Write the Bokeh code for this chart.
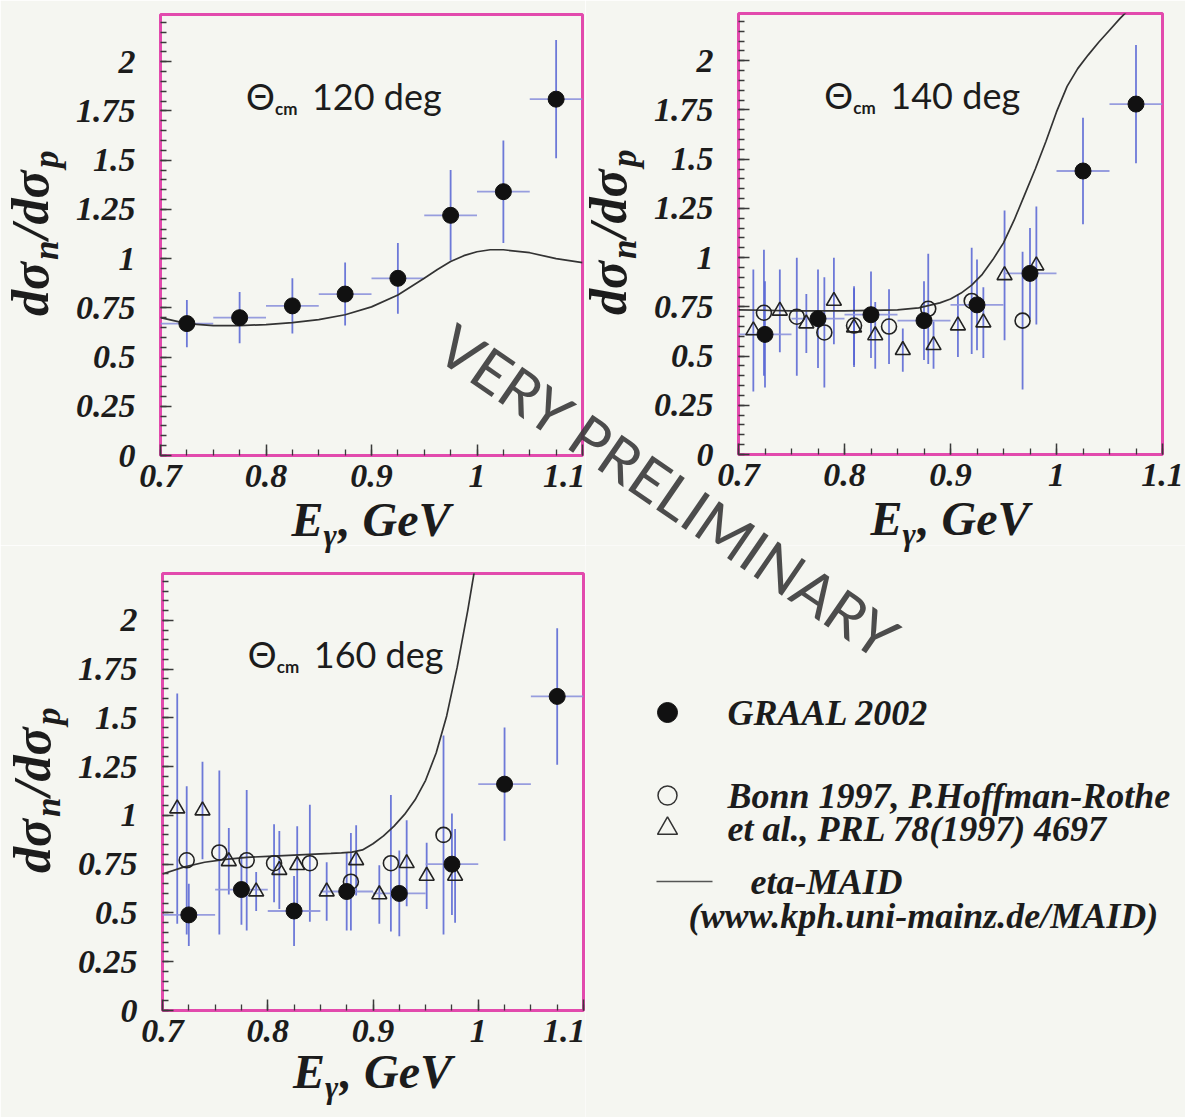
import numpy as np
from bokeh.plotting import figure
from bokeh.layouts import column, row
from bokeh.models import Label, FixedTicker, Range1d
from bokeh.core.properties import value
from bokeh.embed import file_html
from bokeh.resources import INLINE

# ---------------- data: ratio dσn/dσp versus photon energy (GeV) ----------------
# GRAAL 2002, bins of +-0.025 GeV
E_GRAAL = [0.725, 0.775, 0.825, 0.875, 0.925, 0.975, 1.025, 1.075]
E_HALF = 0.025
R120 = [0.67, 0.70, 0.76, 0.82, 0.90, 1.22, 1.34, 1.81]
ERR120 = [0.12, 0.13, 0.14, 0.16, 0.18, 0.23, 0.26, 0.30]
R140 = [0.61, 0.69, 0.71, 0.68, 0.76, 0.92, 1.44, 1.78]
ERR140 = [0.27, 0.25, 0.22, 0.20, 0.23, 0.23, 0.27, 0.30]
R160 = [0.49, 0.62, 0.51, 0.61, 0.60, 0.75, 1.16, 1.61]
ERR160 = [0.16, 0.18, 0.18, 0.20, 0.22, 0.26, 0.29, 0.35]

# Bonn 1997 (open circles)
BC140_E = [0.724, 0.755, 0.781, 0.809, 0.842, 0.879, 0.920, 0.968]
BC140 = [0.72, 0.70, 0.62, 0.655, 0.65, 0.74, 0.78, 0.68]
BC140_ERR = [0.32, 0.30, 0.28, 0.20, 0.19, 0.28, 0.27, 0.35]
BC160_E = [0.723, 0.754, 0.780, 0.806, 0.840, 0.879, 0.917, 0.967]
BC160 = [0.77, 0.81, 0.77, 0.755, 0.755, 0.66, 0.755, 0.90]
BC160_ERR = [0.38, 0.42, 0.36, 0.20, 0.30, 0.25, 0.35, 0.51]

# Bonn 1997 (open triangles)
BT140_E = [0.714, 0.739, 0.764, 0.790, 0.809, 0.829, 0.855, 0.884, 0.907, 0.931, 0.951, 0.981]
BT140 = [0.63, 0.73, 0.665, 0.78, 0.645, 0.605, 0.53, 0.555, 0.655, 0.67, 0.91, 0.96]
BT140_ERR = [0.31, 0.21, 0.15, 0.22, 0.20, 0.17, 0.11, 0.12, 0.16, 0.18, 0.33, 0.30]
BT160_E = [0.714, 0.738, 0.763, 0.789, 0.811, 0.828, 0.856, 0.884, 0.906, 0.932, 0.951, 0.978]
BT160 = [1.035, 1.025, 0.765, 0.61, 0.72, 0.745, 0.61, 0.77, 0.595, 0.755, 0.69, 0.69]
BT160_ERR = [0.59, 0.25, 0.17, 0.10, 0.20, 0.20, 0.15, 0.18, 0.15, 0.22, 0.17, 0.24]

# eta-MAID predictions
M120_E = [0.70, 0.725, 0.75, 0.775, 0.80, 0.825, 0.85, 0.875, 0.90, 0.925, 0.95, 0.9625,
          0.975, 0.9875, 1.00, 1.0125, 1.025, 1.05, 1.075, 1.10]
M120 = [0.70, 0.67, 0.66, 0.66, 0.665, 0.675, 0.69, 0.715, 0.755, 0.815, 0.90, 0.945,
        0.985, 1.015, 1.035, 1.045, 1.045, 1.03, 1.00, 0.98]
M140_E = [0.70, 0.75, 0.80, 0.85, 0.87, 0.89, 0.90, 0.91, 0.92, 0.93, 0.94, 0.95, 0.96,
          0.97, 0.98, 0.99, 1.00, 1.01, 1.02, 1.03, 1.04, 1.05, 1.06, 1.07]
M140 = [0.735, 0.73, 0.73, 0.735, 0.745, 0.77, 0.79, 0.82, 0.86, 0.915, 0.99, 1.075, 1.19,
        1.32, 1.45, 1.59, 1.74, 1.87, 1.96, 2.03, 2.095, 2.155, 2.215, 2.27]
M160_E = [0.70, 0.72, 0.74, 0.76, 0.78, 0.80, 0.82, 0.84, 0.86, 0.87, 0.88, 0.89, 0.90,
          0.91, 0.92, 0.93, 0.94, 0.95, 0.96, 0.97, 0.98, 0.99, 1.00]
M160 = [0.70, 0.735, 0.76, 0.775, 0.785, 0.79, 0.795, 0.80, 0.805, 0.808, 0.812, 0.823,
        0.855, 0.895, 0.945, 1.005, 1.08, 1.18, 1.32, 1.51, 1.76, 2.05, 2.37]

X_TICKS = [0.7, 0.8, 0.9, 1.0, 1.1]
X_TICK_LABELS = ["0.7", "0.8", "0.9", "1", "1.1"]
Y_TICKS = [0.0, 0.25, 0.5, 0.75, 1.0, 1.25, 1.5, 1.75, 2.0]
Y_TICK_LABELS = ["0", "0.25", "0.5", "0.75", "1", "1.25", "1.5", "1.75", "2"]
ANGLES = ["120 deg", "140 deg", "160 deg"]

LEGEND_LABELS = ["GRAAL 2002", "Bonn 1997, P.Hoffman-Rothe", "et al., PRL 78(1997) 4697",
                 "eta-MAID", "(www.kph.uni-mainz.de/MAID)"]
WATERMARK = "VERY PRELIMINARY"

# ---------------- styling ----------------
BG = "#f5f6f1"
FRAME = "#e24aad"
ERR_V = "#5563d4"
ERR_H = "#8d94dc"
INK = "#1c1c1c"
SERIF = "Liberation Serif"
SANS = "Lato"
X_RANGE = (0.7, 1.1)
Y_RANGE = (0.0, 2.24)
PAGE_W, PAGE_H = 1185, 1117
# "alphabetic" text lands this many ems below its anchor; anchors are raised by it
BASE_SHIFT = 0.37


def style_axis(ax, ticks, labels, minor):
    ax.ticker = FixedTicker(ticks=ticks, minor_ticks=minor)
    ax.major_label_overrides = dict(zip(ticks, labels))
    ax.axis_line_color = None
    ax.major_tick_in = 11
    ax.major_tick_out = 0
    ax.minor_tick_in = 6
    ax.minor_tick_out = 0
    ax.major_tick_line_color = "#3a3a3a"
    ax.minor_tick_line_color = "#3a3a3a"
    ax.major_tick_line_width = 1.5
    ax.minor_tick_line_width = 1.3
    ax.major_label_text_font = SERIF
    ax.major_label_text_font_style = "bold italic"
    ax.major_label_text_font_size = "34px"
    ax.major_label_text_color = INK


def panel(geom, angle_text, graal, graal_err, maid_e, maid, circ=None, tri=None):
    l, r, t, b = geom["borders"]
    p = figure(width=geom["w"], height=geom["h"], x_range=Range1d(*X_RANGE),
               y_range=Range1d(*Y_RANGE), output_backend="svg", toolbar_location=None,
               min_border_left=l, min_border_right=r, min_border_top=t, min_border_bottom=b,
               frame_align=False)
    p.background_fill_color = BG
    p.border_fill_color = BG
    p.outline_line_color = FRAME
    p.outline_line_width = 3
    p.xgrid.visible = False
    p.ygrid.visible = False

    style_axis(p.xaxis[0], X_TICKS, X_TICK_LABELS,
               [round(v, 3) for v in np.arange(0.7, 1.1001, 0.025)])
    p.xaxis[0].major_label_standoff = 9
    style_axis(p.yaxis[0], Y_TICKS, Y_TICK_LABELS,
               [round(v, 3) for v in np.arange(0.0, 2.2401, 0.05)])
    p.yaxis[0].major_label_standoff = 25

    # Bonn points: vertical error bars only
    for series in (circ, tri):
        if series is None:
            continue
        e, v, err = (np.array(a) for a in series)
        p.segment(x0=e, y0=v - err, x1=e, y1=v + err, line_color=ERR_V,
                  line_width=1.8, line_alpha=0.85)

    # GRAAL error bars
    ge = np.array(E_GRAAL)
    gv = np.array(graal)
    gerr = np.array(graal_err)
    p.segment(x0=ge - E_HALF, y0=gv, x1=ge + E_HALF, y1=gv, line_color=ERR_H,
              line_width=1.8, line_alpha=0.9)
    p.segment(x0=ge, y0=gv - gerr, x1=ge, y1=gv + gerr, line_color=ERR_V,
              line_width=1.8, line_alpha=0.85)

    # eta-MAID curve
    p.line(maid_e, maid, line_color="#333333", line_width=1.7)

    for series, marker in ((circ, "circle"), (tri, "triangle")):
        if series is None:
            continue
        p.scatter(series[0], series[1], marker=marker, size=15, fill_color=None,
                  line_color="#222222", line_width=1.6)
    p.scatter(E_GRAAL, graal, marker="circle", size=16, fill_color="#111111",
              line_color="#111111")

    # panel caption: Θ_cm ... deg
    cap = dict(x=0.781, y=1.76, text_baseline="alphabetic", text_align="left",
               text_font=SANS, text_color=INK)
    p.add_layout(Label(text="Θ", text_font_size="36px", y_offset=13, **cap))
    p.add_layout(Label(text="cm", text_font_size="17px", text_font_style="bold",
                       x_offset=29, y_offset=1, **cap))
    p.add_layout(Label(text=angle_text, text_font_size="36px", x_offset=66, y_offset=13,
                       **cap))
    return p


GEOM_A = dict(w=585, h=545, borders=(160, 3, 14, 90), frame=(160, 582, 14, 455), title=82)
GEOM_B = dict(w=600, h=545, borders=(153, 23, 13, 91), frame=(738, 1162, 13, 454), title=82)
GEOM_C = dict(w=585, h=572, borders=(162, 2, 28, 107), frame=(162, 583, 573, 1010), title=79)

pa = panel(GEOM_A, ANGLES[0], R120, ERR120, M120_E, M120)
pb = panel(GEOM_B, ANGLES[1], R140, ERR140, M140_E, M140,
           circ=(BC140_E, BC140, BC140_ERR), tri=(BT140_E, BT140, BT140_ERR))
pc = panel(GEOM_C, ANGLES[2], R160, ERR160, M160_E, M160,
           circ=(BC160_E, BC160, BC160_ERR), tri=(BT160_E, BT160, BT160_ERR))


def page_figure(width, height, x0, y0, **kw):
    """a figure whose frame fills the canvas; data units are page pixels"""
    f = figure(width=width, height=height, x_range=Range1d(x0, x0 + width),
               y_range=Range1d(y0 + height, y0), output_backend="svg",
               toolbar_location=None, x_axis_type=None, y_axis_type=None, min_border=0,
               frame_align=False, **kw)
    f.outline_line_color = None
    f.xgrid.visible = False
    f.ygrid.visible = False
    return f


# legend block
pd = page_figure(600, 572, 585, 545)
pd.background_fill_color = BG
pd.border_fill_color = BG
pd.scatter([667], [712], marker="circle", size=20, fill_color="#111111", line_color="#111111")
pd.scatter([667], [795], marker="circle", size=19, fill_color=None, line_color="#333333",
           line_width=1.5)
pd.scatter([667], [828], marker="triangle", size=20, fill_color=None, line_color="#333333",
           line_width=1.5)
pd.line([656, 712], [881, 881], line_color="#555555", line_width=1.5)
pd.text(x=[727, 727, 727, 750, 688], y=[712, 795, 828, 881, 915], text=LEGEND_LABELS,
        text_font=value(SERIF), text_font_style="bold italic", text_font_size="36px",
        text_color=INK, text_align="left", text_baseline="middle")

# transparent sheet over the whole page: axis titles and the watermark
ov = page_figure(PAGE_W, PAGE_H, 0, 0, margin=(-PAGE_H, 0, 0, 0))
ov.background_fill_alpha = 0
ov.border_fill_alpha = 0

serif_bi = dict(text_font=value(SERIF), text_font_style="bold italic", text_color=INK,
                text_align="left", text_baseline="alphabetic")
X_FS, X_SUB = 48, 32
Y_FS, Y_SUB = 52, 35
for geom in (GEOM_A, GEOM_B, GEOM_C):
    fx0, fx1, fy0, fy1 = geom["frame"]
    xc = 0.5 * (fx0 + fx1)
    base = fy1 + geom["title"]
    # E_γ, GeV
    ov.text(x=[xc - 80, xc - 33], y=[base - BASE_SHIFT * X_FS] * 2, text=["E", ", GeV"],
            text_font_size=f"{X_FS}px", **serif_bi)
    ov.text(x=[xc - 48], y=[base + 9 - BASE_SHIFT * X_SUB], text=["γ"],
            text_font_size=f"{X_SUB}px", **serif_bi)
    # dσ_n/dσ_p, reading upwards
    yc = fy1 - 1.13 / (Y_RANGE[1] - Y_RANGE[0]) * (fy1 - fy0)
    xb = fx0 - 111
    y_start = yc + 83
    ov.text(x=[xb - BASE_SHIFT * Y_FS] * 2, y=[y_start, y_start - 77], text=["dσ", "/dσ"],
            text_font_size=f"{Y_FS}px", angle=90, angle_units="deg", **serif_bi)
    ov.text(x=[xb + 10 - BASE_SHIFT * Y_SUB] * 2, y=[y_start - 56, y_start - 148],
            text=["n", "p"], text_font_size=f"{Y_SUB}px", angle=90, angle_units="deg",
            **serif_bi)

ov.text(x=[669], y=[491], text=[WATERMARK], angle=-34.4, angle_units="deg",
        text_font=value(SANS), text_font_size="59px", text_color="#3a3a3a", text_alpha=0.9,
        text_align="center", text_baseline="middle")

layout = column(column(row(pa, pb), row(pc, pd)), ov)
open("out.html", "w").write(file_html(layout, INLINE))
